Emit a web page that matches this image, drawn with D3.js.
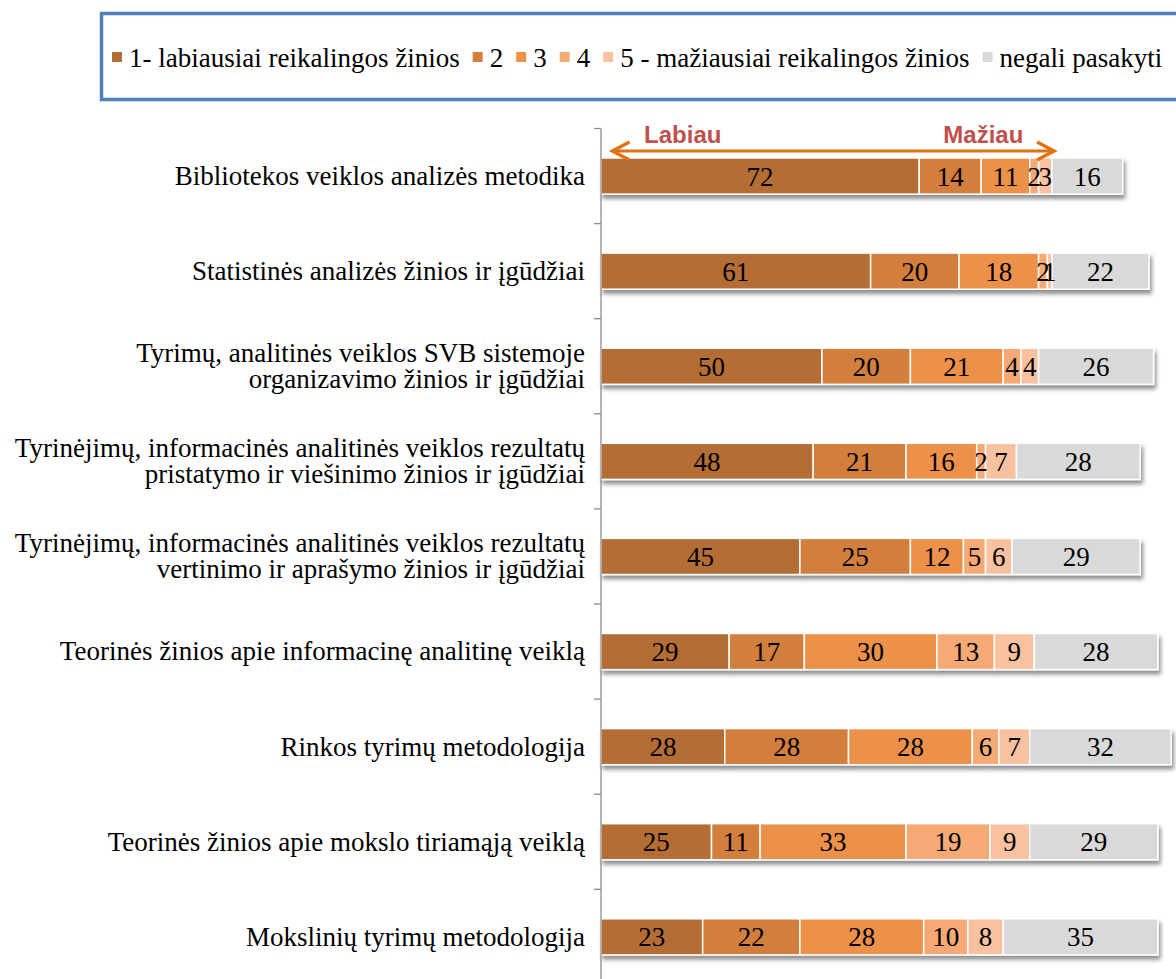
<!DOCTYPE html>
<html>
<head>
  <meta charset="utf-8">
  <script src="https://d3js.org/d3.v7.min.js"></script>
  <style>
    body { margin: 0; background: #fff; }
  </style>
</head>
<body>
<script>
  "use strict";

  // categories, top to bottom (lines as shown on the axis)
  var categories = [
    ["Bibliotekos veiklos analizės metodika"],
    ["Statistinės analizės žinios ir įgūdžiai"],
    ["Tyrimų, analitinės veiklos SVB sistemoje", "organizavimo žinios ir įgūdžiai"],
    ["Tyrinėjimų, informacinės analitinės veiklos rezultatų", "pristatymo ir viešinimo žinios ir įgūdžiai"],
    ["Tyrinėjimų, informacinės analitinės veiklos rezultatų", "vertinimo ir aprašymo žinios ir įgūdžiai"],
    ["Teorinės žinios apie informacinę analitinę veiklą"],
    ["Rinkos tyrimų metodologija"],
    ["Teorinės žinios apie mokslo tiriamąją veiklą"],
    ["Mokslinių tyrimų metodologija"]
  ];

  var seriesNames = [
    "1- labiausiai reikalingos žinios", "2", "3", "4",
    "5 - mažiausiai reikalingos žinios", "negali pasakyti"
  ];
  var seriesColors = ["#B46D35", "#D27E3C", "#EC9148", "#F5AA74", "#F8C2A0", "#D9D9D9"];

  var s1 = [72, 61, 50, 48, 45, 29, 28, 25, 23];
  var s2 = [14, 20, 20, 21, 25, 17, 28, 11, 22];
  var s3 = [11, 18, 21, 16, 12, 30, 28, 33, 28];
  var s4 = [2, 2, 4, 2, 5, 13, 6, 19, 10];
  var s5 = [3, 1, 4, 7, 6, 9, 7, 9, 8];
  var s6 = [16, 22, 26, 28, 29, 28, 32, 29, 35];

  var width = 1176, height = 979;
  var serif = "'Liberation Serif', 'Times New Roman', Times, serif";
  var fontSize = 27;

  var svg = d3.select("body").append("svg")
    .attr("width", width)
    .attr("height", height)
    .style("font-family", serif);

  // soft shadow under each bar row
  var defs = svg.append("defs");
  var f = defs.append("filter").attr("id", "shadow")
    .attr("x", "-5%").attr("y", "-20%").attr("width", "115%").attr("height", "160%");
  f.append("feGaussianBlur").attr("in", "SourceAlpha").attr("stdDeviation", 2).attr("result", "b");
  f.append("feOffset").attr("in", "b").attr("dx", 2).attr("dy", 4).attr("result", "o");
  f.append("feComponentTransfer").attr("in", "o").attr("result", "o2")
    .append("feFuncA").attr("type", "linear").attr("slope", 0.45);
  var fm = f.append("feMerge");
  fm.append("feMergeNode").attr("in", "o2");
  fm.append("feMergeNode").attr("in", "SourceGraphic");

  var allSeries = [s1, s2, s3, s4, s5, s6];
  var rows = categories.map(function (c, i) {
    var r = { key: i, label: c };
    allSeries.forEach(function (s, j) { r["s" + j] = s[i]; });
    return r;
  });
  var keys = allSeries.map(function (s, j) { return "s" + j; });
  var stacked = d3.stack().keys(keys)(rows);

  var x0 = 601, unit = 4.42;
  var x = d3.scaleLinear().domain([0, 129]).range([x0, x0 + 129 * unit]);
  var y = d3.scaleBand()
    .domain(d3.range(categories.length))
    .range([128.5, 128.5 + 9 * 95.1])
    .paddingInner(0.62).paddingOuter(0.31);

  // bars, one group per category so the shadow falls under the whole row
  var rowG = svg.append("g").selectAll("g.row")
    .data(rows).join("g")
    .attr("class", "row")
    .attr("filter", "url(#shadow)");

  rowG.each(function (r, i) {
    var g = d3.select(this);
    stacked.forEach(function (layer, j) {
      var d = layer[i];
      g.append("rect")
        .attr("x", x(d[0]))
        .attr("y", y(i))
        .attr("width", x(d[1]) - x(d[0]))
        .attr("height", y.bandwidth())
        .attr("fill", seriesColors[j])
        .attr("stroke", "#fff")
        .attr("stroke-width", 1.5);
    });
  });

  // value labels
  stacked.forEach(function (layer, j) {
    svg.append("g").selectAll("text")
      .data(layer).join("text")
      .attr("x", function (d) { return (x(d[0]) + x(d[1])) / 2; })
      .attr("y", function (d, i) { return y(i) + y.bandwidth() / 2; })
      .attr("dy", "0.35em")
      .attr("text-anchor", "middle")
      .style("font-size", fontSize + "px")
      .attr("fill", "#000")
      .text(function (d) { return d[1] - d[0]; });
  });

  // category axis
  var axisG = svg.append("g")
    .attr("transform", "translate(" + x0 + ",0)");
  axisG.append("line")
    .attr("x1", 0).attr("x2", 0)
    .attr("y1", y.range()[0]).attr("y2", height)
    .attr("stroke", "#8c8c8c").attr("stroke-width", 1.3);
  axisG.selectAll("line.tick")
    .data(d3.range(categories.length + 1)).join("line")
    .attr("class", "tick")
    .attr("x1", -7).attr("x2", 0)
    .attr("y1", function (i) { return y.range()[0] + i * y.step(); })
    .attr("y2", function (i) { return y.range()[0] + i * y.step(); })
    .attr("stroke", "#8c8c8c").attr("stroke-width", 1.3);

  var labelG = svg.append("g").selectAll("text")
    .data(rows).join("text")
    .attr("text-anchor", "end")
    .style("font-size", fontSize + "px")
    .attr("fill", "#000")
    .attr("transform", function (d, i) {
      return "translate(585," + (y(i) + y.bandwidth() / 2) + ")";
    });
  labelG.each(function (d) {
    var t = d3.select(this);
    var n = d.label.length;
    d.label.forEach(function (line, k) {
      t.append("tspan")
        .attr("x", 0)
        .attr("y", (k - (n - 1) / 2) * 26)
        .attr("dy", "0.33em")
        .text(line);
    });
  });

  // direction arrow
  var arrowColor = "#E0730F";
  var ay = 151;
  svg.append("line")
    .attr("x1", x(2.6)).attr("x2", x(102.5))
    .attr("y1", ay).attr("y2", ay)
    .attr("stroke", arrowColor).attr("stroke-width", 3);
  [[x(2.6), 1], [x(102.5), -1]].forEach(function (p) {
    svg.append("path")
      .attr("d", "M" + (p[0] + p[1] * 17) + "," + (ay - 9) + "L" + p[0] + "," + ay + "L" + (p[0] + p[1] * 17) + "," + (ay + 9))
      .attr("fill", "none")
      .attr("stroke", arrowColor).attr("stroke-width", 3.5);
  });
  [["Labiau", 18.5], ["Mažiau", 86.5]].forEach(function (a) {
    svg.append("text")
      .attr("x", x(a[1])).attr("y", 143)
      .attr("text-anchor", "middle")
      .style("font-family", "'Liberation Sans', Arial, sans-serif")
      .style("font-weight", "bold")
      .style("font-size", "24px")
      .attr("fill", "#C0504D")
      .text(a[0]);
  });

  // legend
  var legend = svg.append("g");
  legend.append("rect")
    .attr("x", 101.5).attr("y", 13.5)
    .attr("width", 1090).attr("height", 86)
    .attr("fill", "#fff")
    .attr("stroke", "#4F81BD").attr("stroke-width", 3.5);
  var lx = 112;
  seriesNames.forEach(function (name, j) {
    legend.append("rect")
      .attr("x", lx).attr("y", 52)
      .attr("width", 10).attr("height", 10)
      .attr("fill", seriesColors[j]);
    var t = legend.append("text")
      .attr("x", lx + 17).attr("y", 58)
      .attr("dy", "0.33em")
      .style("font-size", fontSize + "px")
      .text(name);
    lx += 17 + t.node().getComputedTextLength() + 13;
  });
</script>
</body>
</html>
